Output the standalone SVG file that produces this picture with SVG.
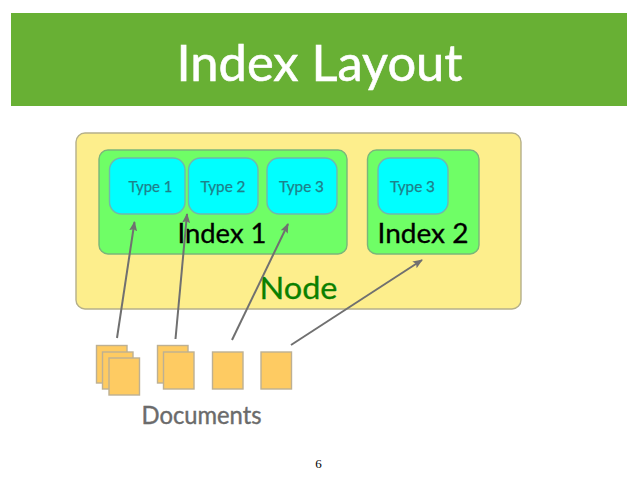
<svg xmlns="http://www.w3.org/2000/svg" width="638" height="479" viewBox="0 0 638 479">
<style>
text{font-family:"Lato","Liberation Sans",sans-serif}
.node{fill:#fdee8c;stroke:#b5b08a;stroke-width:1.4}
.index{fill:#6ffe66;stroke:#7ab67a;stroke-width:1.4}
.type{fill:#00ffff;stroke:#6fb8ae;stroke-width:1.4}
.doc{fill:#fecb62;stroke:#bdb093;stroke-width:1.4}
.tl{font-size:14.500px;fill:#1f7f8a;stroke:#1f7f8a;stroke-width:.25;text-anchor:middle}
.il{font-size:26px;fill:#000;stroke:#000;stroke-width:.3;text-anchor:middle}
.conn{stroke:#707070;stroke-width:2;fill:none;marker-end:url(#arrow)}
</style>
<defs>
<marker id="arrow" viewBox="0 0 10 8" refX="9" refY="4" markerWidth="10" markerHeight="8" markerUnits="userSpaceOnUse" orient="auto"><path d="M0 0L10 4L0 8L2 4Z" fill="#707070"/></marker>
</defs>
<rect width="638" height="479" fill="#fff"/>
<g id="banner"><rect x="11" y="13" width="616" height="93" fill="#68b034"/>
<text x="319.500" y="81" font-size="51" fill="#fff" stroke="#fff" stroke-width=".6" text-anchor="middle" textLength="286" lengthAdjust="spacingAndGlyphs">Index Layout</text></g>
<g id="node"><rect class="node" x="76" y="133" width="445" height="176" rx="9"/>
<text x="298.500" y="299" font-size="30" fill="#0a8000" stroke="#0a8000" stroke-width=".3" text-anchor="middle" textLength="78" lengthAdjust="spacingAndGlyphs">Node</text></g>
<g id="index-1"><rect class="index" x="99" y="150" width="248" height="104" rx="9"/>
<text class="il" x="222" y="243" textLength="89" lengthAdjust="spacingAndGlyphs">Index 1</text></g>
<g id="index-2"><rect class="index" x="367.500" y="150" width="111.500" height="104" rx="9"/>
<text class="il" x="423" y="243" textLength="91" lengthAdjust="spacingAndGlyphs">Index 2</text></g>
<g id="type-1"><rect class="type" x="109.500" y="158" width="75.500" height="56" rx="12"/><text class="tl" x="150.500" y="192" textLength="44" lengthAdjust="spacingAndGlyphs">Type 1</text></g>
<g id="type-2"><rect class="type" x="188.500" y="158" width="69.500" height="56" rx="12"/><text class="tl" x="223" y="192" textLength="45" lengthAdjust="spacingAndGlyphs">Type 2</text></g>
<g id="type-3a"><rect class="type" x="267" y="158" width="70" height="56" rx="12"/><text class="tl" x="301.500" y="192" textLength="45" lengthAdjust="spacingAndGlyphs">Type 3</text></g>
<g id="type-3b"><rect class="type" x="378" y="158" width="70" height="56" rx="12"/><text class="tl" x="412.500" y="192" textLength="45" lengthAdjust="spacingAndGlyphs">Type 3</text></g>
<g id="doc-group-1"><rect class="doc" x="96.500" y="345.500" width="30.500" height="37.500"/><rect class="doc" x="102.500" y="352" width="30.500" height="37"/><rect class="doc" x="109" y="358" width="30.500" height="37"/></g>
<g id="doc-group-2"><rect class="doc" x="157.500" y="345.500" width="30.500" height="37.500"/><rect class="doc" x="163.500" y="352" width="30.500" height="37"/></g>
<g id="doc-3"><rect class="doc" x="212.500" y="352" width="30.500" height="37"/></g>
<g id="doc-4"><rect class="doc" x="261" y="352" width="30.500" height="37"/></g>
<g id="connectors">
<line class="conn" x1="117" y1="338" x2="134.500" y2="222"/>
<line class="conn" x1="175.500" y1="339" x2="187" y2="214"/>
<line class="conn" x1="232" y1="340" x2="288" y2="224"/>
<line class="conn" x1="291" y1="345" x2="422" y2="260"/>
</g>
<text x="201.500" y="424" font-size="25" fill="#6b6b6b" stroke="#6b6b6b" stroke-width=".4" text-anchor="middle" textLength="120" lengthAdjust="spacingAndGlyphs">Documents</text>
<text x="318.500" y="468" font-size="13" fill="#000" text-anchor="middle" style="font-family:'Liberation Serif',serif">6</text>
</svg>
